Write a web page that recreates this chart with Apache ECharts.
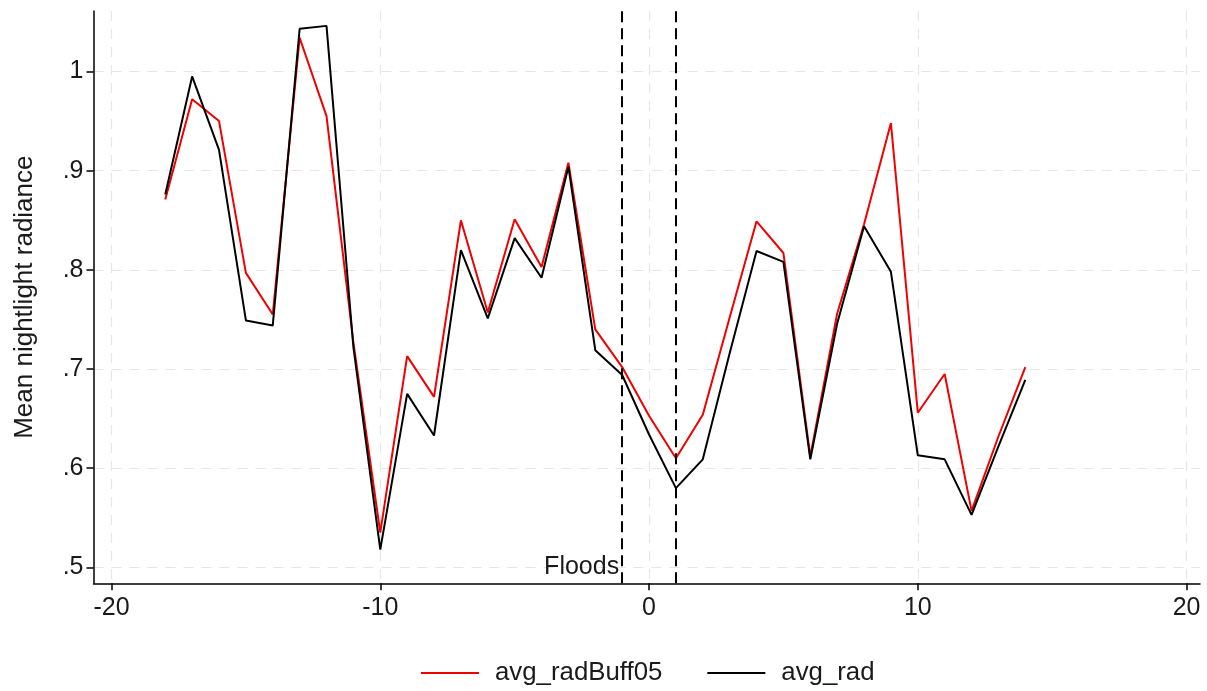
<!DOCTYPE html>
<html>
<head>
<meta charset="utf-8">
<script src="https://cdn.jsdelivr.net/npm/echarts@6/dist/echarts.min.js"></script>
<style>
html,body{margin:0;padding:0;background:#fff;}
#chart{width:1207px;height:691px;}
</style>
</head>
<body>
<div id="chart"></div>
<script>
const periods = [-18,-17,-16,-15,-14,-13,-12,-11,-10,-9,-8,-7,-6,-5,-4,-3,-2,-1,0,1,2,3,4,5,6,7,8,9,10,11,12,13,14];
const avgRadBuff05 = [0.871,0.972,0.950,0.797,0.755,1.034,0.955,0.727,0.535,0.713,0.672,0.850,0.757,0.851,0.803,0.908,0.740,0.702,0.653,0.610,0.654,0.752,0.849,0.817,0.612,0.756,0.846,0.948,0.656,0.695,0.557,0.632,0.702];
const avgRad = [0.876,0.995,0.921,0.749,0.744,1.043,1.046,0.722,0.518,0.675,0.633,0.820,0.751,0.832,0.792,0.904,0.719,0.694,0.634,0.580,0.609,0.716,0.819,0.808,0.609,0.746,0.844,0.798,0.613,0.609,0.553,0.622,0.689];
const xTicks = [-20,-10,0,10,20];
const yTicks = [0.5,0.6,0.7,0.8,0.9,1];
const floodLines = [-1, 1];
const floodLabel = 'Floods';
const seriesNames = ['avg_radBuff05','avg_rad'];

const FONT = 'Liberation Sans, Arial, Helvetica, sans-serif';
const FS = 25;
const pair = arr => periods.map((p,i)=>[p, arr[i]]);
const fmtY = v => { const s = String(Math.round(v*10)/10); return s.startsWith('0') ? s.slice(1) : s; };

const chart = echarts.init(document.getElementById('chart'), null, {renderer:'canvas'});
chart.setOption({
  animation:false,
  backgroundColor:'#fff',
  grid:{left:93.5, right:7, top:11, bottom:107.7, containLabel:false, outerBoundsMode:'none'},
  legend:{
    data:seriesNames, bottom:0, left:416,
    icon:'rect', itemWidth:58, itemHeight:2, itemGap:45,
    textStyle:{fontFamily:FONT, fontSize:25.8, color:'#1a1a1a', padding:[0,0,0,11]}
  },
  xAxis:{
    type:'value', min:-20.67, max:20.5,
    axisLine:{show:true, onZero:false, lineStyle:{color:'#000', width:1.5}},
    axisTick:{show:true, length:7, customValues:xTicks, lineStyle:{color:'#000', width:1.5}},
    axisLabel:{customValues:xTicks, margin:12, fontFamily:FONT, fontSize:FS, color:'#1a1a1a'},
    splitLine:{show:true, lineStyle:{color:'#e6e6e6', width:1.2, type:[10,8]}}
  },
  yAxis:{
    type:'value', min:0.484, max:1.061,
    name:'Mean nightlight radiance', nameLocation:'middle', nameGap:56,
    nameTextStyle:{fontFamily:FONT, fontSize:26, color:'#1a1a1a'},
    axisLine:{show:true, onZero:false, lineStyle:{color:'#000', width:1.5}},
    axisTick:{show:true, length:7, customValues:yTicks, lineStyle:{color:'#000', width:1.5}},
    axisLabel:{customValues:yTicks, margin:10, formatter:fmtY, fontFamily:FONT, fontSize:FS, color:'#1a1a1a'},
    splitLine:{show:true, lineStyle:{color:'#e6e6e6', width:1.2, type:[10,8]}}
  },
  series:[
    {
      name:seriesNames[0], type:'line', data:pair(avgRadBuff05),
      showSymbol:false, symbol:'none', color:'#f00000',
      lineStyle:{color:'#f00000', width:2},
      markLine:{
        silent:true, symbol:'none',
        lineStyle:{color:'#000', width:2, type:[11,6]},
        label:{show:false},
        data:floodLines.map(v=>({xAxis:v}))
      },
      markPoint:{
        silent:true, symbol:'circle', symbolSize:0,
        label:{show:true, position:'left', distance:3, formatter:floodLabel, fontFamily:FONT, fontSize:FS, color:'#1a1a1a'},
        data:[{coord:[floodLines[0], yTicks[0]]}]
      },
      z:2
    },
    {
      name:seriesNames[1], type:'line', data:pair(avgRad),
      showSymbol:false, symbol:'none', color:'#000',
      lineStyle:{color:'#000', width:2},
      z:3
    }
  ]
});
</script>
</body>
</html>
